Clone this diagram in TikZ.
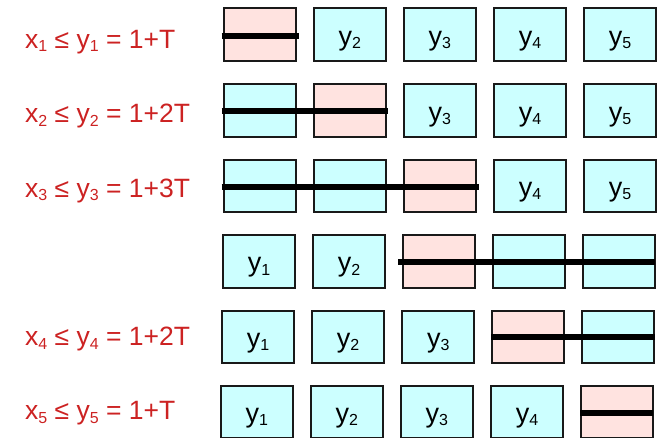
\documentclass[tikz,border=0pt]{standalone}
\usepackage{fontspec}
\setmainfont{Liberation Sans}
\definecolor{cyanfill}{HTML}{CCFFFF}
\definecolor{pinkfill}{HTML}{FFE3E0}
\definecolor{labred}{HTML}{CC2222}
\newcommand\subs[1]{\raisebox{-3.5pt}{\fontsize{16}{16}\selectfont #1}}
\begin{document}
\begin{tikzpicture}[x=1pt,y=-1pt,
  box/.style={draw=black!90, line width=2pt, minimum width=72pt, minimum height=52.5pt, inner sep=0pt, fill=cyanfill},
  boxtxt/.style={anchor=base, inner sep=0pt, font=\fontsize{27}{27}\selectfont},
  bar/.style={line width=6pt, black},
  lab/.style={anchor=base west, inner sep=0pt, text=labred, font=\fontsize{26.5}{26.5}\selectfont}]
\useasboundingbox (0,0) rectangle (666,438);
% boxes
\foreach \r/\cy/\cx/\h in {1/34.55/259.7/1, 2/110.55/259.7/2, 3/185.95/259.7/3, 4/261.25/259/3, 5/336.95/258/4, 6/411.95/256.7/5}
  \foreach \k in {1,...,5} {
    \ifnum\k=\h \def\fc{pinkfill}\else\def\fc{cyanfill}\fi
    \node[box, fill=\fc] (b\r\k) at ({\cx+90.1*(\k-1)},\cy) {};
  }
% box texts
\foreach \r/\k in {1/2,1/3,1/4,1/5, 2/3,2/4,2/5, 3/4,3/5, 4/1,4/2, 5/1,5/2,5/3, 6/1,6/2,6/3,6/4}
  \node[boxtxt] (t\r\k) at ([yshift=-10.5pt]b\r\k.center) {y\subs{\k}};
% bars
\draw[bar] ([xshift=-1pt,yshift=-1pt]b11.west) -- ([xshift=2pt,yshift=-1pt]b11.east);
\draw[bar] ([xshift=-1pt,yshift=-0.5pt]b21.west) -- ([xshift=1pt,yshift=-0.5pt]b22.east);
\draw[bar] ([xshift=-1pt,yshift=-0.7pt]b31.west) -- ([xshift=2pt,yshift=-0.7pt]b33.east);
\draw[bar] ([xshift=-4pt,yshift=-0.8pt]b43.west) -- ([xshift=-1.4pt,yshift=-0.8pt]b45.east);
\draw[bar] ([yshift=-0.4pt]b54.west) -- ([yshift=-0.4pt]b55.east);
\draw[bar] ([yshift=-1pt]b65.west) -- ([xshift=-1pt,yshift=-1pt]b65.east);
% labels
\node[lab] (l1) at (25,48.3) {x\subs{1} ≤ y\subs{1} = 1+T};
\node[lab] (l2) at (25,122.7) {x\subs{2} ≤ y\subs{2} = 1+2T};
\node[lab] (l3) at (25,197.3) {x\subs{3} ≤ y\subs{3} = 1+3T};
\node[lab] (l4) at (25,345.7) {x\subs{4} ≤ y\subs{4} = 1+2T};
\node[lab] (l5) at (25,419.7) {x\subs{5} ≤ y\subs{5} = 1+T};
\end{tikzpicture}
\end{document}
